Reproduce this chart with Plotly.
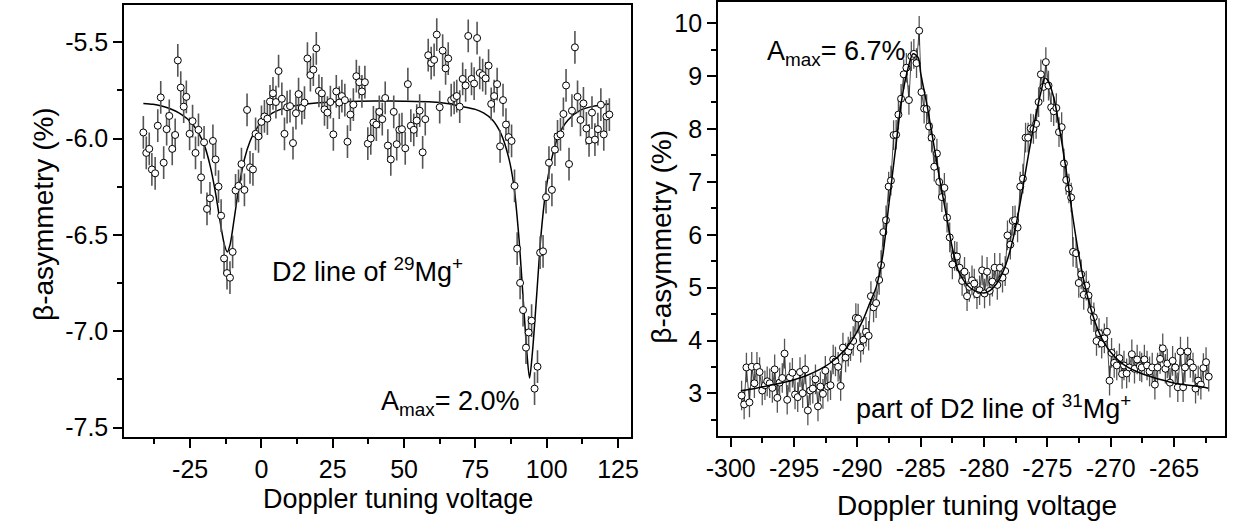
import plotly.graph_objects as go

# ---------------- Left panel: D2 line of 29Mg+ ----------------
left_x = [-41.41, -40.38, -39.34, -38.42, -37.27, -36.35, -35.31, -34.28, -33.24, -32.32,
          -31.28, -30.25, -29.33, -28.29, -27.26, -26.34, -25.19, -24.15, -23.12, -22.08,
          -21.16, -20.12, -19.09, -18.05, -17.02, -16.10, -15.06, -14.14, -13.11, -12.07,
          -11.04, -10.11, -9.08, -8.04, -7.01, -5.97, -5.05, -4.01, -2.98, -2.06,
          -1.03, 0.01, 1.05, 2.08, 3.00, 4.04, 5.07, 6.00, 7.15, 8.07,
          8.99, 10.02, 11.06, 12.09, 13.01, 14.16, 15.08, 16.12, 17.16, 18.19,
          19.23, 20.15, 21.18, 22.10, 23.14, 24.17, 25.21, 26.24, 27.28, 28.20,
          29.24, 30.16, 31.19, 32.23, 33.27, 34.30, 35.22, 36.26, 37.29, 38.33,
          39.25, 40.28, 41.32, 42.36, 43.39, 44.31, 45.35, 46.38, 47.42, 48.34,
          49.26, 50.41, 51.33, 52.37, 53.40, 54.44, 55.47, 56.51, 57.43, 58.47,
          59.50, 60.54, 61.46, 62.49, 63.53, 64.56, 65.48, 66.52, 67.56, 68.47,
          69.51, 70.55, 71.58, 72.50, 73.65, 74.57, 75.60, 76.52, 77.56, 78.60,
          79.63, 80.55, 81.59, 82.63, 83.66, 84.70, 85.73, 86.65, 87.69, 88.73,
          89.65, 90.68, 91.72, 92.75, 93.67, 94.71, 95.75, 96.78, 97.70, 98.73,
          99.77, 100.80, 101.84, 102.88, 103.80, 104.83, 105.87, 106.79, 107.83, 108.86,
          109.90, 110.82, 111.85, 112.89, 113.93, 114.85, 115.88, 116.92, 117.95, 118.99,
          120.02, 120.94, 121.98]
left_y = [-5.968, -6.074, -6.053, -6.160, -6.180, -5.933, -5.786, -6.125, -5.951, -5.882,
          -6.053, -5.981, -5.594, -5.735, -5.834, -5.783, -5.975, -5.909, -6.074, -5.954,
          -6.201, -6.019, -6.365, -6.310, -6.012, -6.108, -6.249, -6.400, -6.622, -6.698,
          -6.722, -6.588, -6.269, -6.245, -6.132, -6.266, -5.851, -6.149, -6.160, -5.975,
          -5.988, -5.913, -5.885, -5.896, -5.807, -5.765, -5.810, -5.649, -5.793, -5.975,
          -5.837, -5.831, -6.023, -5.868, -5.769, -5.841, -5.813, -5.584, -5.670, -5.642,
          -5.531, -5.752, -5.765, -5.848, -5.865, -5.810, -5.978, -5.755, -5.813, -5.779,
          -5.800, -6.016, -5.875, -5.824, -5.676, -5.707, -5.755, -5.707, -6.026, -5.999,
          -5.916, -5.927, -5.861, -5.899, -5.789, -6.036, -6.108, -5.861, -6.029, -5.954,
          -5.951, -6.050, -5.717, -5.933, -5.954, -5.906, -5.855, -6.071, -5.899, -5.567,
          -5.608, -5.591, -5.460, -5.837, -5.543, -5.635, -5.584, -5.800, -5.789, -5.779,
          -5.834, -5.690, -5.724, -5.467, -5.690, -5.714, -5.478, -5.659, -5.670, -5.687,
          -5.621, -5.820, -5.779, -5.717, -6.040, -5.800, -5.927, -5.992, -6.012, -6.245,
          -6.571, -6.749, -6.890, -7.085, -7.006, -6.945, -7.298, -7.184, -6.592, -6.585,
          -6.304, -6.125, -6.266, -6.057, -5.988, -5.978, -5.872, -5.724, -6.132, -5.855,
          -5.526, -5.783, -5.903, -5.817, -5.947, -6.009, -5.865, -6.005, -5.951, -5.824,
          -5.978, -5.885, -5.875]
left_err = 0.085

left_fit_x = [-41.4, -38, -35, -32, -30, -28, -26, -24, -22, -20, -18, -16, -14.5, -13, -12,
              -11, -9.5, -8, -6, -4, -2, 0, 3, 6, 10, 15, 20, 30, 40, 50, 60, 65, 70, 75,
              78, 81, 84, 86.7, 88.5, 90.2, 91.9, 93.1, 94.0, 95.0, 96.5, 98.0, 99.6,
              101.7, 104.0, 107.5, 112.0, 116.7, 121.9]
left_fit_y = [-5.817, -5.822, -5.831, -5.845, -5.858, -5.875, -5.897, -5.928, -5.971, -6.035,
              -6.140, -6.290, -6.430, -6.550, -6.588, -6.550, -6.410, -6.260, -6.108, -6.014,
              -5.954, -5.915, -5.875, -5.852, -5.835, -5.822, -5.814, -5.807, -5.805, -5.806,
              -5.810, -5.818, -5.832, -5.848, -5.868, -5.903, -5.975, -6.100, -6.245, -6.502,
              -6.862, -7.119, -7.243, -7.110, -6.811, -6.502, -6.280, -6.108, -5.988, -5.903,
              -5.851, -5.831, -5.820]

# ---------------- Right panel: part of D2 line of 31Mg+ ----------------
right_x = [-299.14, -298.94, -298.76, -298.52, -298.34, -298.13, -297.93, -297.72, -297.51, -297.30,
           -297.12, -296.92, -296.71, -296.53, -296.32, -296.14, -295.93, -295.75, -295.54, -295.33,
           -295.13, -294.92, -294.71, -294.53, -294.32, -294.12, -293.91, -293.73, -293.52, -293.31,
           -293.11, -292.92, -292.72, -292.53, -292.33, -292.12, -291.91, -291.73, -291.52, -291.32,
           -291.14, -290.93, -290.72, -290.54, -290.33, -290.12, -289.94, -289.74, -289.53, -289.32,
           -289.11, -288.93, -288.72, -288.52, -288.28, -288.13, -287.95, -287.74, -287.53, -287.35,
           -287.14, -286.94, -286.76, -286.55, -286.34, -286.13, -285.93, -285.74, -285.54, -285.33,
           -285.12, -284.94, -284.73, -284.53, -284.34, -284.14, -283.93, -283.72, -283.54, -283.33,
           -283.13, -282.92, -282.71, -282.50, -282.32, -282.14, -281.93, -281.73, -281.54, -281.34,
           -281.16, -280.95, -280.77, -280.56, -280.35, -280.15, -279.96, -279.76, -279.55, -279.34,
           -279.16, -278.95, -278.75, -278.54, -278.33, -278.15, -277.92, -277.73, -277.55, -277.35,
           -277.14, -276.93, -276.72, -276.52, -276.31, -276.10, -275.89, -275.69, -275.51, -275.30,
           -275.12, -274.91, -274.70, -274.50, -274.29, -274.08, -273.87, -273.69, -273.51, -273.30,
           -273.12, -272.97, -272.73, -272.52, -272.33, -272.13, -271.93, -271.75, -271.54, -271.33,
           -271.12, -270.92, -270.71, -270.50, -270.30, -270.09, -269.93, -269.72, -269.52, -269.31,
           -269.10, -268.95, -268.74, -268.53, -268.33, -268.12, -267.91, -267.70, -267.55, -267.34,
           -267.13, -266.93, -266.72, -266.51, -266.30, -266.10, -265.89, -265.68, -265.53, -265.32,
           -265.11, -264.90, -264.70, -264.49, -264.28, -264.13, -263.92, -263.71, -263.50, -263.30,
           -263.09, -262.88, -262.68, -262.47, -262.26]
right_y = [2.962, 2.794, 3.492, 2.831, 3.505, 3.193, 3.505, 3.405, 3.056, 3.155,
           3.230, 3.193, 3.106, 3.455, 2.918, 3.205, 3.293, 3.754, 2.881, 3.305,
           3.393, 2.981, 2.931, 3.405, 3.006, 3.455, 2.681, 3.056, 3.093, 3.268,
           2.756, 3.131, 2.993, 3.430, 3.131, 3.155, 3.642, 3.605, 3.505, 3.143,
           3.867, 3.680, 3.792, 3.892, 3.992, 4.428, 4.416, 3.867, 4.016, 4.166,
           4.091, 4.840, 4.628, 4.709, 5.146, 5.426, 6.050, 6.275, 6.911, 7.024,
           7.884, 7.891, 8.271, 8.571, 9.032, 9.157, 8.546, 9.375, 9.419, 9.244,
           9.856, 8.695, 8.384, 8.377, 8.047, 7.835, 7.286, 7.535, 6.999, 6.712,
           6.886, 6.325, 5.950, 5.439, 5.601, 5.589, 5.377, 5.127, 5.302, 4.840,
           5.015, 5.139, 5.077, 4.877, 4.952, 5.327, 4.890, 5.302, 4.940, 5.115,
           5.377, 5.052, 5.377, 5.189, 5.314, 5.988, 5.813, 6.262, 6.275, 6.138,
           6.911, 7.061, 7.835, 7.835, 8.009, 8.000, 8.097, 8.508, 9.032, 8.795,
           9.263, 8.820, 8.409, 8.334, 8.396, 7.941, 8.034, 7.348, 7.036, 6.874,
           6.705, 5.676, 5.651, 5.089, 5.252, 4.865, 5.040, 4.852, 4.578, 4.441,
           3.992, 4.141, 3.942, 4.041, 4.166, 3.243, 3.767, 3.580, 3.530, 3.667,
           3.368, 3.530, 3.380, 3.492, 3.742, 3.467, 3.642, 3.517, 3.492, 3.642,
           3.530, 3.418, 3.492, 3.168, 3.492, 3.655, 3.854, 3.467, 3.567, 3.205,
           3.617, 3.492, 3.118, 3.792, 3.118, 3.492, 3.792, 3.580, 3.492, 3.093,
           3.243, 3.168, 3.480, 3.592, 3.318]
right_err = 0.28

right_fit_x = [-299.2, -298, -297, -296, -295, -294, -293, -292, -291, -290.5, -290, -289.5,
               -289, -288.5, -288, -287.5, -287, -286.5, -286, -285.6, -285.2, -285, -284.5,
               -284, -283.5, -283, -282.5, -282, -281.5, -281, -280.5, -280, -279.5, -279,
               -278.5, -278, -277.5, -277, -276.5, -276, -275.5, -275.2, -275, -274.5, -274,
               -273.5, -273, -272.5, -272, -271.5, -271, -270.5, -270, -269, -268, -267,
               -266, -265, -264, -263, -262.3]
right_fit_y = [3.05, 3.10, 3.15, 3.20, 3.26, 3.34, 3.45, 3.60, 3.82, 3.98, 4.18, 4.42,
               4.72, 5.02, 5.60, 6.60, 7.60, 8.55, 9.15, 9.42, 9.35, 9.05, 8.45,
               7.75, 7.05, 6.40, 5.75, 5.30, 5.10, 4.98, 4.92, 4.90, 4.95, 5.08,
               5.30, 5.65, 6.15, 6.80, 7.50, 8.15, 8.70, 8.96, 8.93, 8.60, 7.95,
               7.20, 6.35, 5.60, 5.00, 4.55, 4.20, 3.95, 3.78, 3.55, 3.42, 3.33,
               3.26, 3.20, 3.16, 3.13, 3.10]

# ---------------- Tick labels ----------------
left_xtick_vals = [-25, 0, 25, 50, 75, 100, 125]
left_xtick_text = ["-25", "0", "25", "50", "75", "100", "125"]
left_ytick_vals = [-7.5, -7.0, -6.5, -6.0, -5.5]
left_ytick_text = ["-7.5", "-7.0", "-6.5", "-6.0", "-5.5"]
right_xtick_vals = [-300, -295, -290, -285, -280, -275, -270, -265]
right_xtick_text = ["-300", "-295", "-290", "-285", "-280", "-275", "-270", "-265"]
right_ytick_vals = [3, 4, 5, 6, 7, 8, 9, 10]
right_ytick_text = ["3", "4", "5", "6", "7", "8", "9", "10"]

FONT = "Arial, Liberation Sans, sans-serif"
W, H = 1244, 526

fig = go.Figure()

# left fit + data
fig.add_trace(go.Scatter(x=left_fit_x, y=left_fit_y, mode="lines",
                         line=dict(color="black", width=1.5, shape="spline", smoothing=0.8),
                         xaxis="x", yaxis="y", hoverinfo="skip"))
fig.add_trace(go.Scatter(x=left_x, y=left_y, mode="markers",
                         marker=dict(symbol="circle", size=7, color="white",
                                     line=dict(color="black", width=1)),
                         error_y=dict(type="constant", value=left_err, color="#555555",
                                      thickness=1.6, width=0),
                         xaxis="x", yaxis="y"))

# right data (connected) + fit
fig.add_trace(go.Scatter(x=right_x, y=right_y, mode="lines+markers",
                         line=dict(color="#222222", width=0.8),
                         marker=dict(symbol="circle", size=7, color="white",
                                     line=dict(color="black", width=1)),
                         error_y=dict(type="constant", value=right_err, color="#555555",
                                      thickness=1.3, width=0),
                         xaxis="x2", yaxis="y2"))
fig.add_trace(go.Scatter(x=right_fit_x, y=right_fit_y, mode="lines",
                         line=dict(color="black", width=1.5, shape="spline", smoothing=0.8),
                         xaxis="x2", yaxis="y2", hoverinfo="skip"))


def px2paper_x(p):
    return p / W


def px2paper_y(p):
    return 1 - p / H


axis_common = dict(showgrid=False, zeroline=False, showline=True, mirror=True,
                   linecolor="black", linewidth=2, ticks="outside", ticklen=9,
                   tickwidth=2, tickcolor="black",
                   tickfont=dict(family=FONT, size=25, color="black"))

fig.update_layout(
    width=W, height=H, margin=dict(l=0, r=0, t=0, b=0),
    paper_bgcolor="white", plot_bgcolor="white", showlegend=False,
    font=dict(family=FONT, color="black"),
    xaxis=dict(domain=[114 / W, 629 / W], range=[-48.1, 129.7], anchor="y",
               tickmode="array", tickvals=left_xtick_vals, ticktext=left_xtick_text,
               minor=dict(tickmode="linear", tick0=-12.5, dtick=25, ticklen=5,
                          tickwidth=2, tickcolor="black", ticks="outside"),
               **axis_common),
    yaxis=dict(domain=[1 - 440 / H, 1 - 4 / H], range=[-7.548, -5.306], anchor="x",
               tickmode="array", tickvals=left_ytick_vals, ticktext=left_ytick_text,
               minor=dict(tickmode="linear", tick0=-7.25, dtick=0.5, ticklen=5,
                          tickwidth=2, tickcolor="black", ticks="outside"),
               **axis_common),
    xaxis2=dict(domain=[717 / W, 1232 / W], range=[-301.0, -260.96], anchor="y2",
                tickmode="array", tickvals=right_xtick_vals, ticktext=right_xtick_text,
                minor=dict(tickmode="linear", tick0=-297.5, dtick=5, ticklen=5,
                           tickwidth=2, tickcolor="black", ticks="outside"),
                **axis_common),
    yaxis2=dict(domain=[1 - 439 / H, 1 - 1.5 / H], range=[2.2, 10.39], anchor="x2",
                tickmode="array", tickvals=right_ytick_vals, ticktext=right_ytick_text,
                minor=dict(tickmode="linear", tick0=2.5, dtick=1, ticklen=5,
                           tickwidth=2, tickcolor="black", ticks="outside"),
                **axis_common),
)

ann_font = dict(family=FONT, size=27, color="black")
annotations = [
    # axis titles
    dict(text="β-asymmetry (%)", x=px2paper_x(32), y=px2paper_y(215.5), xref="paper",
         yref="paper", textangle=-90, showarrow=False, xanchor="center", yanchor="middle",
         font=dict(family=FONT, size=28, color="black")),
    dict(text="β-asymmetry (%)", x=px2paper_x(660), y=px2paper_y(238), xref="paper",
         yref="paper", textangle=-90, showarrow=False, xanchor="center", yanchor="middle",
         font=dict(family=FONT, size=28, color="black")),
    dict(text="Doppler tuning voltage", x=px2paper_x(391.5), y=px2paper_y(503), xref="paper",
         yref="paper", showarrow=False, xanchor="center", yanchor="middle",
         font=dict(family=FONT, size=27, color="black")),
    dict(text="Doppler tuning voltage", x=px2paper_x(980), y=px2paper_y(509), xref="paper",
         yref="paper", showarrow=False, xanchor="center", yanchor="middle",
         font=dict(family=FONT, size=28, color="black")),
    # in-plot labels
    dict(text="D2 line of <sup>29</sup>Mg<sup>+</sup>", x=px2paper_x(262), y=px2paper_y(272),
         xref="paper", yref="paper", showarrow=False, xanchor="left", yanchor="middle",
         font=ann_font),
    dict(text="A<sub>max</sub>= 2.0%", x=px2paper_x(373), y=px2paper_y(406),
         xref="paper", yref="paper", showarrow=False, xanchor="left", yanchor="middle",
         font=ann_font),
    dict(text="A<sub>max</sub>= 6.7%", x=px2paper_x(765), y=px2paper_y(52),
         xref="paper", yref="paper", showarrow=False, xanchor="left", yanchor="middle",
         font=ann_font),
    dict(text="part of D2 line of <sup>31</sup>Mg<sup>+</sup>", x=px2paper_x(855),
         y=px2paper_y(410), xref="paper", yref="paper", showarrow=False, xanchor="left",
         yanchor="middle", font=ann_font),
]
fig.update_layout(annotations=annotations)

fig.write_html("out.html", config={"displayModeBar": False},
               post_script="document.body.style.margin='0px';document.body.style.overflow='hidden';")
